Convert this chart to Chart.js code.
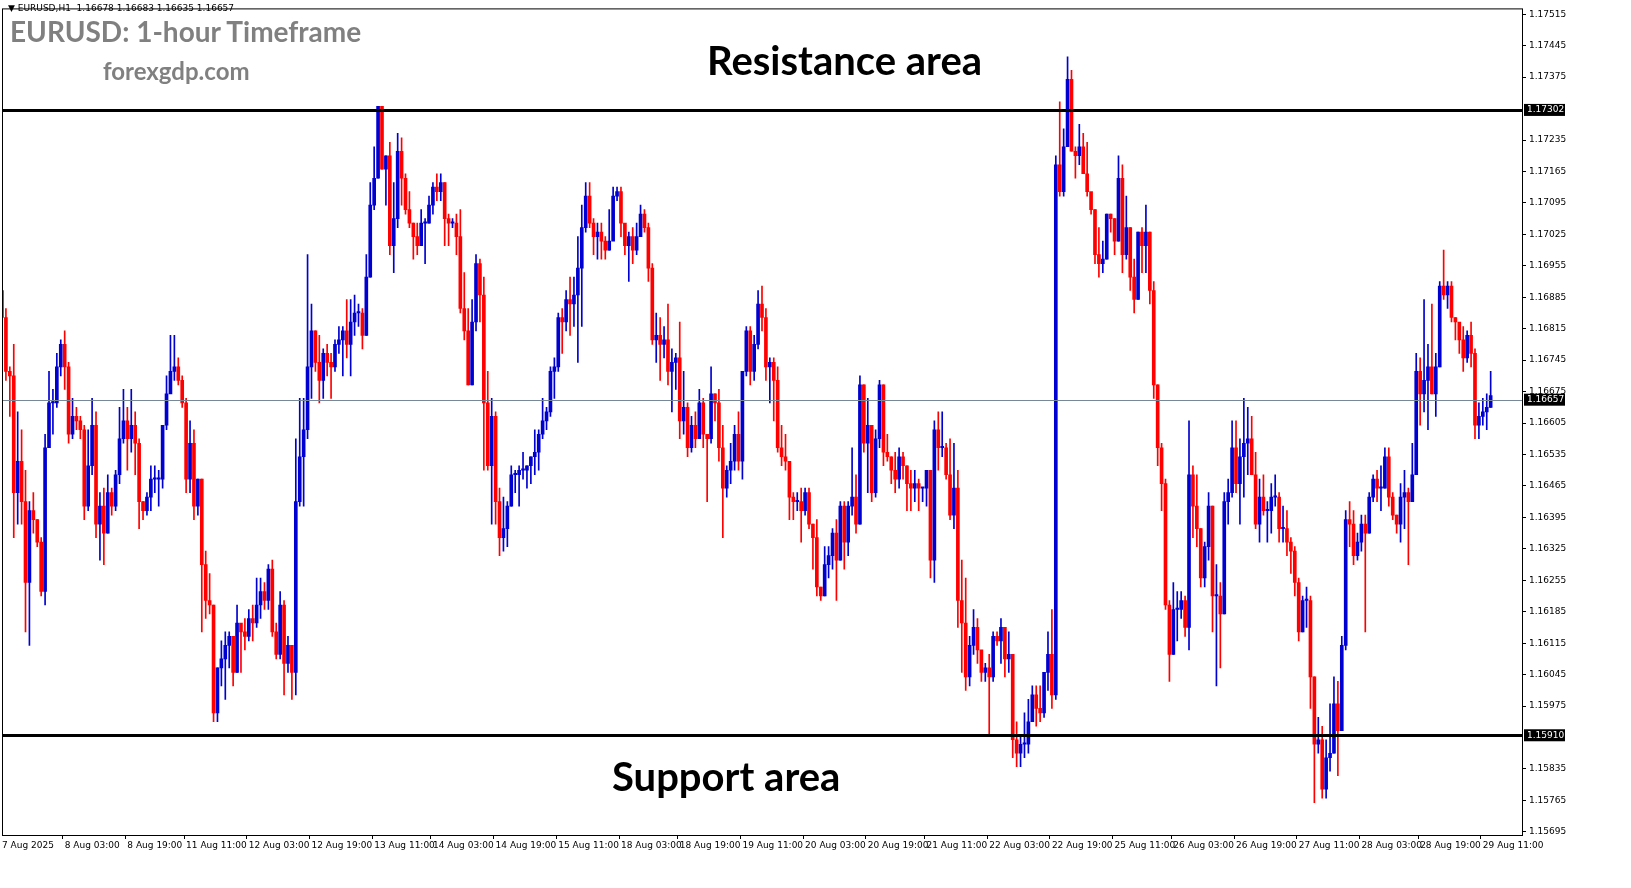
<!DOCTYPE html>
<html>
<head>
<meta charset="utf-8">
<script src="https://cdn.jsdelivr.net/npm/chart.js@4.4.1/dist/chart.umd.min.js"></script>
<style>
  html, body { margin: 0; padding: 0; background: #fff; }
  #wrap { position: relative; width: 1631px; height: 888px; }
  .txt { position: absolute; white-space: nowrap; }
  #info { left: 8px; top: 3px; font: 9px "DejaVu Sans", sans-serif; color: #000; }
  #title { left: 10px; top: 14px; font: bold 28px Lato, sans-serif; color: #808080; }
  #site { left: 103px; top: 56px; font: bold 24px Lato, sans-serif; color: #808080; }
  #res { left: 707px; top: 36px; font: bold 40px Lato, sans-serif; color: #000; }
  #sup { left: 612px; top: 752px; font: bold 40px Lato, sans-serif; color: #000; }
</style>
</head>
<body>
<div id="wrap">
  <canvas id="c" width="1631" height="888"></canvas>
  <div class="txt" id="info">▼ EURUSD,H1&nbsp; 1.16678 1.16683 1.16635 1.16657</div>
  <div class="txt" id="title">EURUSD: 1-hour Timeframe</div>
  <div class="txt" id="site">forexgdp.com</div>
  <div class="txt" id="res">Resistance area</div>
  <div class="txt" id="sup">Support area</div>
</div>
<script>
// prices are kept in pips above BASE (1 pip = 0.0001)
const BASE = 1.15;
const PIP = 0.0001;
const firstOpen = 190;

const closes = [
  184,172,171,145,152,143,125,141,139,134,
  123,155,165,165,173,178,173,158,162,161,
  159,142,151,160,138,142,136,145,142,149,
  157,161,157,160,156,143,141,144,148,148,
  148,160,167,172,173,170,165,148,156,142,
  148,129,121,120,96,106,108,111,113,105,
  116,114,113,117,116,120,123,121,128,114,
  109,120,107,111,105,143,153,159,173,181,
  174,170,176,174,173,178,179,181,178,183,
  185,185,180,193,209,215,231,217,220,200,
  206,221,215,208,205,202,200,205,205,209,
  213,212,214,206,205,205,202,186,181,169,
  183,196,189,165,151,162,143,135,137,142,
  149,149,150,150,151,153,154,158,161,163,
  172,173,184,183,188,187,189,195,204,211,
  205,202,203,201,199,201,211,212,205,200,
  202,199,202,207,204,195,179,180,178,179,
  172,174,175,161,164,155,160,157,165,158,
  157,167,165,155,146,150,152,158,152,172,
  181,172,178,187,184,173,174,170,155,153,
  152,144,143,143,141,145,138,135,124,122,
  129,131,136,130,142,134,142,144,138,169,
  156,160,145,157,169,154,153,150,148,153,
  151,147,146,147,146,146,150,130,159,155,
  155,149,140,146,121,116,104,111,115,110,
  105,106,104,113,112,115,108,109,90,87,
  89,89,94,100,97,96,105,109,100,218,
  212,222,237,221,220,222,216,212,208,198,
  196,197,207,206,201,215,198,204,193,188,
  203,200,203,190,169,155,147,120,109,119,
  119,121,115,149,142,137,126,133,142,122,
  122,118,143,145,155,147,153,156,157,149,
  138,144,141,141,144,144,137,137,134,132,
  125,114,121,121,104,89,90,79,86,87,
  98,92,111,139,138,131,134,138,136,144,
  148,146,146,153,144,140,138,144,145,143,
  149,172,167,170,173,167,173,191,189,191,
  184,183,179,175,180,176,160,162,163,164,
  166.6
];

const highs = [
  200,186,173,178,163,159,150,143,145,139,
  135,158,172,168,176,179,181,174,166,164,
  162,160,159,166,163,145,146,149,146,150,
  164,168,164,168,163,157,143,145,151,151,
  150,160,171,180,180,175,171,166,161,159,
  148,148,132,127,120,106,112,114,114,113,
  120,115,117,119,120,126,126,125,129,130,
  116,123,121,113,111,157,166,166,198,187,
  181,180,177,178,176,179,182,182,188,188,
  189,187,186,198,214,222,231,231,220,223,
  214,225,224,216,212,205,205,208,206,211,
  214,216,216,214,207,206,207,208,194,186,
  188,198,197,193,172,166,163,146,144,143,
  151,150,151,154,151,153,159,159,166,164,
  173,175,185,186,190,193,193,202,209,214,
  214,206,205,205,202,208,213,213,213,204,
  203,204,205,209,208,205,196,185,184,182,
  187,177,176,183,172,165,162,163,168,166,
  158,173,167,168,160,151,156,160,163,172,
  182,182,180,190,191,186,175,175,173,160,
  158,152,145,145,146,146,146,138,139,124,
  133,133,137,139,143,143,143,155,149,171,
  169,166,160,159,170,169,158,153,154,155,
  154,151,150,150,148,146,150,150,161,163,
  163,156,157,156,150,130,126,113,119,117,
  109,107,109,114,114,117,115,114,109,94,
  91,96,99,102,102,102,105,114,119,220,
  232,226,242,239,222,227,225,223,211,208,
  204,201,207,207,206,220,218,211,204,197,
  203,204,209,203,192,169,156,148,121,125,
  123,123,122,161,151,149,137,134,145,142,
  129,125,145,148,161,161,157,166,164,162,
  154,148,149,143,147,149,145,142,141,135,
  133,126,122,124,122,104,95,93,90,98,
  104,103,113,141,143,141,136,140,140,145,
  149,150,151,155,155,145,140,147,150,146,
  156,176,175,188,178,187,176,192,199,192,
  192,184,182,182,181,183,177,165,166,167,
  172
];

const lows = [
  176,170,162,135,138,138,114,111,136,133,
  122,120,155,158,164,171,168,156,157,159,
  157,139,141,149,135,130,129,136,140,141,
  147,156,150,154,149,137,139,140,141,145,
  142,146,159,169,170,169,164,145,145,139,
  140,114,117,118,94,94,102,99,106,102,
  105,105,110,112,112,115,117,119,119,113,
  108,108,100,105,99,100,142,142,157,166,
  172,165,166,171,166,172,176,171,175,171,
  180,182,177,180,193,208,215,217,209,198,
  194,204,209,207,204,197,198,200,196,205,
  207,210,210,200,200,204,198,185,179,169,
  169,181,183,150,150,138,138,131,132,133,
  142,145,142,148,146,147,149,150,157,159,
  162,166,172,176,181,180,182,174,182,203,
  204,198,197,197,197,199,204,210,202,198,
  192,196,198,202,203,192,178,174,170,175,
  169,163,168,157,158,153,154,155,157,155,
  143,156,161,152,135,144,147,150,150,148,
  171,169,170,177,181,170,165,161,154,151,
  150,139,139,141,134,140,137,128,122,121,
  122,126,128,121,130,128,131,140,136,138,
  154,145,143,144,155,151,152,147,145,146,
  148,141,141,143,141,143,142,126,125,150,
  153,148,139,137,115,105,101,102,109,107,
  103,103,91,103,111,107,104,105,86,84,
  84,86,87,94,93,94,95,101,97,99,
  211,211,222,221,215,218,216,211,207,196,
  193,194,197,203,198,201,194,197,190,185,
  188,194,194,187,166,151,141,119,103,109,
  112,117,113,110,135,133,124,124,130,114,
  102,106,118,138,144,145,138,144,149,149,
  137,134,140,134,136,142,134,134,131,127,
  122,112,114,115,97,76,87,77,77,83,
  87,82,92,110,133,129,130,132,114,136,
  143,143,141,146,142,139,136,134,137,129,
  143,149,160,163,159,167,162,173,188,186,
  183,179,176,172,174,173,157,157,160,159,
  164
];

// MT4 time labels along the bottom
const tickLabels = [
  "7 Aug 2025", "8 Aug 03:00", "8 Aug 19:00", "11 Aug 11:00", "12 Aug 03:00",
  "12 Aug 19:00", "13 Aug 11:00", "14 Aug 03:00", "14 Aug 19:00", "15 Aug 11:00",
  "18 Aug 03:00", "18 Aug 19:00", "19 Aug 11:00", "20 Aug 03:00", "20 Aug 19:00",
  "21 Aug 11:00", "22 Aug 03:00", "22 Aug 19:00", "25 Aug 11:00", "26 Aug 03:00",
  "26 Aug 19:00", "27 Aug 11:00", "28 Aug 03:00", "28 Aug 19:00", "29 Aug 11:00"
];
const LAST_TICK_BAR = 378; // bar index under the last time label

const yTickValues = [
  1.17515, 1.17445, 1.17375, 1.17235, 1.17165, 1.17095, 1.17025, 1.16955,
  1.16885, 1.16815, 1.16745, 1.16675, 1.16605, 1.16535, 1.16465, 1.16395,
  1.16325, 1.16255, 1.16185, 1.16115, 1.16045, 1.15975, 1.15835, 1.15765, 1.15695
];

const resistanceLevel = 1.17302;
const supportLevel = 1.15910;
const currentPrice = 1.16657;

const UP = "#0000d0";
const DOWN = "#ff0000";

const px = (p) => BASE + p * PIP;
const opens = closes.map((c, i) => (i === 0 ? firstOpen : closes[i - 1]));
const colors = closes.map((c, i) => (c >= opens[i] ? UP : DOWN));
const slots = closes.length + 8; // right shift like MT4
const labels = Array.from({ length: slots }, (_, i) => String(i));
const tickAt = new Map(tickLabels.map((t, k) =>
  [Math.round(k * LAST_TICK_BAR / (tickLabels.length - 1)), t]));

const levelsPlugin = {
  id: "levels",
  afterDatasetsDraw(chart) {
    const { ctx, chartArea, scales } = chart;
    const y = scales.y;
    ctx.save();
    const line = (v, w, col) => {
      const py = Math.round(y.getPixelForValue(v)) + 0.5;
      ctx.beginPath();
      ctx.strokeStyle = col;
      ctx.lineWidth = w;
      ctx.moveTo(chartArea.left, py);
      ctx.lineTo(chartArea.right, py);
      ctx.stroke();
    };
    line(currentPrice, 1, "#778899");
    line(resistanceLevel, 3, "#000");
    line(supportLevel, 3, "#000");
    ctx.strokeStyle = "#000";
    ctx.lineWidth = 1;
    ctx.strokeRect(chartArea.left + 0.5, chartArea.top + 0.5,
      chartArea.right - chartArea.left, chartArea.bottom - chartArea.top);
    ctx.font = "9px 'DejaVu Sans', sans-serif";
    ctx.textBaseline = "middle";
    for (const v of [resistanceLevel, currentPrice, supportLevel]) {
      const py = y.getPixelForValue(v);
      ctx.fillStyle = "#000";
      ctx.fillRect(chartArea.right + 2, py - 6, 41, 12);
      ctx.fillStyle = "#fff";
      ctx.fillText(v.toFixed(5), chartArea.right + 5, py);
    }
    ctx.restore();
  },
};

new Chart(document.getElementById("c"), {
  type: "bar",
  data: {
    labels,
    datasets: [
      {
        label: "wick",
        data: closes.map((c, i) => [px(lows[i]), px(highs[i])]),
        backgroundColor: colors,
        barThickness: 1,
        grouped: false,
      },
      {
        label: "body",
        data: closes.map((c, i) => {
          const o = opens[i];
          const lo = Math.min(o, c), hi = Math.max(o, c);
          return [px(lo), px(hi === lo ? hi + 0.3 : hi)];
        }),
        backgroundColor: colors,
        barThickness: 3,
        grouped: false,
      },
    ],
  },
  options: {
    responsive: false,
    animation: false,
    events: [],
    layout: { padding: { top: 2, left: 2, right: 0, bottom: 0 } },
    plugins: { legend: { display: false }, tooltip: { enabled: false } },
    scales: {
      x: {
        type: "category",
        offset: false,
        border: { display: false },
        grid: {
          drawOnChartArea: false,
          tickLength: 4,
          color: (c) => (tickAt.has(c.index) ? "#000" : "transparent"),
        },
        ticks: {
          autoSkip: false,
          maxRotation: 0,
          align: "start",
          padding: 1,
          color: "#000",
          font: { family: "DejaVu Sans", size: 9 },
          callback: (v, i) => tickAt.get(i) || "",
        },
        afterFit: (axis) => { axis.height = 53; },
      },
      y: {
        position: "right",
        min: 1.15688,
        max: 1.17528,
        border: { display: false },
        grid: { drawOnChartArea: false, tickLength: 4, color: "#000" },
        afterBuildTicks: (axis) => { axis.ticks = yTickValues.map((v) => ({ value: v })); },
        ticks: {
          color: "#000",
          padding: 3,
          font: { family: "DejaVu Sans", size: 9 },
          callback: (v) => Number(v).toFixed(5),
        },
        afterFit: (axis) => { axis.width = 109; },
      },
    },
  },
  plugins: [levelsPlugin],
});
</script>
</body>
</html>
